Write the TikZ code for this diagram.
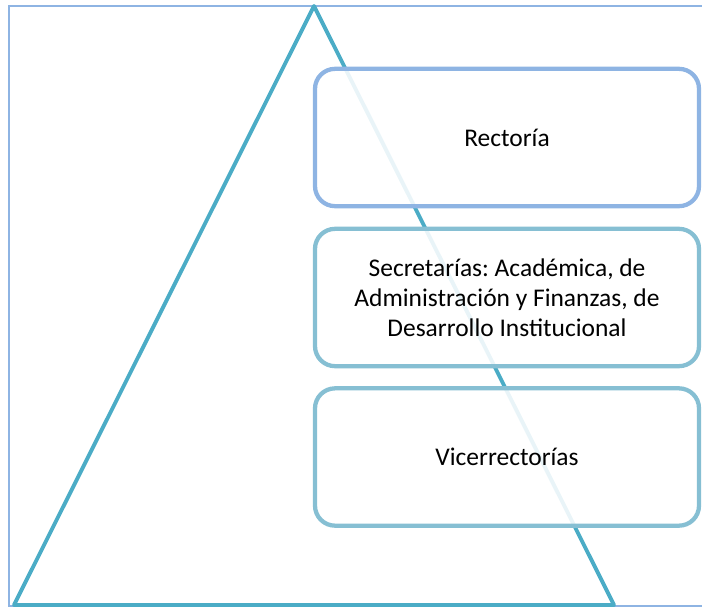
\documentclass[tikz,border=0pt]{standalone}
\usepackage{fontspec}
\setmainfont{Carlito}
\frenchspacing
\usetikzlibrary{positioning}
\definecolor{marco}{HTML}{8EB4E3}
\definecolor{piramide}{HTML}{4BACC6}
\definecolor{nivelazul}{HTML}{8EB4E3}
\definecolor{nivelcian}{HTML}{86BFD3}

\begin{document}
\begin{tikzpicture}[x=0.75pt,y=-0.75pt,
  nivel/.style={draw, rectangle, rounded corners=15pt, line width=3.2pt,
    fill=white, fill opacity=0.88, text opacity=1,
    minimum width=288pt, minimum height=103pt, align=center,
    font=\fontsize{19.1}{22.5}\selectfont}]
\useasboundingbox (0,0) rectangle (702,607);
\draw[marco, line width=1.2pt] (709,6) -- (9,6) -- (9,606) -- (709,606);
\coordinate (cima) at (314,6);
\coordinate (izq) at (14,605);
\coordinate (der) at (614,605);
\draw[piramide, line width=2.9pt, line join=round] (cima) -- (izq) -- (der) -- cycle;
\node[nivel, draw=nivelazul] (rectoria) at (507,137.5) {Rector\'ia};
\node[nivel, draw=nivelcian] (secretarias) at (507,297.5) {Secretar\'ias: Acad\'emica, de\\Administraci\'on y Finanzas, de\\Desarrollo Institucional};
\node[nivel, draw=nivelcian] (vicerrectorias) at (507,457) {Vicerrector\'ias};
\end{tikzpicture}
\end{document}
